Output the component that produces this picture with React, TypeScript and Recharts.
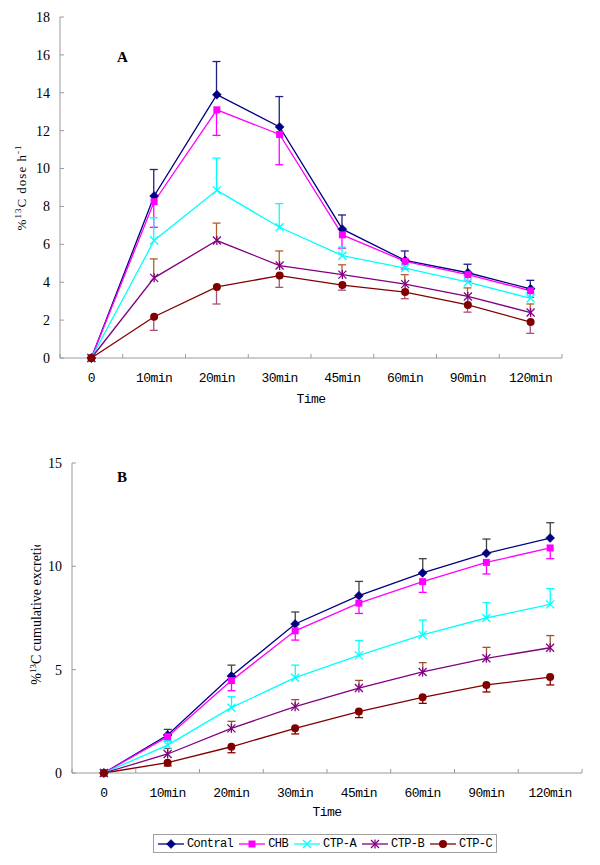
import React from 'react';
import { ComposedChart, Line, Bar, XAxis, YAxis } from 'recharts';

// ---------- data ----------
const timeLabels = ['0', '10min', '20min', '30min', '45min', '60min', '90min', '120min'];
const seriesNames = ['Contral', 'CHB', 'CTP-A', 'CTP-B', 'CTP-C'];
const seriesKeys = ['contral', 'chb', 'ctpA', 'ctpB', 'ctpC'];
const seriesColors = ['#000080', '#FF00FF', '#00FFFF', '#800080', '#800000'];
const seriesMarkers = ['diamond', 'square', 'x', 'star', 'circle'];
const errorDirections = ['up', 'down', 'up', 'up', 'down'];

// Panel A: %13C dose h-1
const contralA = [0, 8.55, 13.9, 12.2, 6.8, 5.15, 4.5, 3.65];
const contralAErr = [0, 1.4, 1.75, 1.6, 0.75, 0.5, 0.45, 0.45];
const chbA = [0, 8.25, 13.1, 11.8, 6.5, 5.1, 4.4, 3.55];
const chbAErr = [0, 1.35, 1.35, 1.6, 0.7, 0.4, 0.35, 0.35];
const ctpA_A = [0, 6.2, 8.85, 6.9, 5.4, 4.75, 4.0, 3.15];
const ctpA_AErr = [0, 1.2, 1.7, 1.25, 0.45, 0.4, 0.35, 0.3];
const ctpB_A = [0, 4.23, 6.2, 4.88, 4.4, 3.9, 3.25, 2.4];
const ctpB_AErr = [0, 1.0, 0.92, 0.77, 0.52, 0.5, 0.45, 0.45];
const ctpC_A = [0, 2.18, 3.75, 4.35, 3.85, 3.48, 2.8, 1.9];
const ctpC_AErr = [0, 0.72, 0.9, 0.62, 0.27, 0.35, 0.38, 0.6];
const yTicksA = [0, 2, 4, 6, 8, 10, 12, 14, 16, 18];

// Panel B: %13C cumulative excretion
const contralB = [0, 1.84, 4.69, 7.21, 8.58, 9.68, 10.63, 11.37];
const contralBErr = [0, 0.27, 0.53, 0.58, 0.69, 0.69, 0.69, 0.74];
const chbB = [0, 1.76, 4.47, 6.88, 8.22, 9.26, 10.19, 10.89];
const chbBErr = [0, 0.2, 0.49, 0.45, 0.5, 0.52, 0.56, 0.52];
const ctpA_B = [0, 1.35, 3.16, 4.61, 5.69, 6.68, 7.5, 8.16];
const ctpA_BErr = [0, 0.22, 0.53, 0.61, 0.72, 0.72, 0.74, 0.76];
const ctpB_B = [0, 0.92, 2.16, 3.21, 4.11, 4.89, 5.55, 6.06];
const ctpB_BErr = [0, 0.27, 0.34, 0.34, 0.37, 0.45, 0.53, 0.59];
const ctpC_B = [0, 0.5, 1.27, 2.16, 2.97, 3.66, 4.26, 4.64];
const ctpC_BErr = [0, 0.16, 0.29, 0.27, 0.29, 0.29, 0.34, 0.38];
const yTicksB = [0, 5, 10, 15];

const errColorsA = ['#1f1f85', '#FF00FF', '#00FFFF', '#b0602c', '#a8507a'];
const errColorsB = ['#404040', '#FF00FF', '#00FFFF', '#a0522d', '#800000'];

function buildRows(values: number[][], errs: number[][]) {
  return timeLabels.map((t, i) => {
    const row: Record<string, any> = { time: t };
    seriesKeys.forEach((k, s) => {
      row[k] = values[s][i];
      row[k + 'Err'] = errs[s][i];
    });
    return row;
  });
}

const rowsA = buildRows(
  [contralA, chbA, ctpA_A, ctpB_A, ctpC_A],
  [contralAErr, chbAErr, ctpA_AErr, ctpB_AErr, ctpC_AErr]
);
const rowsB = buildRows(
  [contralB, chbB, ctpA_B, ctpB_B, ctpC_B],
  [contralBErr, chbBErr, ctpA_BErr, ctpB_BErr, ctpC_BErr]
);

// ---------- styles ----------
const FONT_SERIF = '"Liberation Serif", "Times New Roman", serif';
const FONT_MONO = '"Liberation Mono", "Courier New", monospace';
const AXIS_COLOR = '#9a9a9a';
const X_TICK_MARGIN = 15;
const Y_TICK_MARGIN = 10;

const W = 600;
const H_A = 420;
const H_B = 445;
const marginA = { top: 17, right: 38, bottom: 12, left: 0 };
const marginB = { top: 43, right: 18, bottom: 42, left: 0 };
const yAxisWidthA = 60;
const yAxisWidthB = 72;
const xAxisHeight = 50;
const bandA = (W - marginA.left - marginA.right - yAxisWidthA) / timeLabels.length;
const bandB = (W - marginB.left - marginB.right - yAxisWidthB) / timeLabels.length;

// ---------- markers ----------
function Marker({ kind, cx, cy, color }: { kind: string; cx: number; cy: number; color: string }) {
  switch (kind) {
    case 'diamond':
      return (
        <polygon
          points={`${cx},${cy - 4.5} ${cx + 4.5},${cy} ${cx},${cy + 4.5} ${cx - 4.5},${cy}`}
          fill={color}
          stroke={color}
          strokeWidth={0.5}
        />
      );
    case 'square':
      return <rect x={cx - 3.5} y={cy - 3.5} width={7} height={7} fill={color} />;
    case 'x':
      return (
        <g stroke={color} strokeWidth={1.3}>
          <line x1={cx - 4} y1={cy - 4} x2={cx + 4} y2={cy + 4} />
          <line x1={cx - 4} y1={cy + 4} x2={cx + 4} y2={cy - 4} />
        </g>
      );
    case 'star':
      return (
        <g stroke={color} strokeWidth={1.3}>
          <line x1={cx - 4} y1={cy - 4} x2={cx + 4} y2={cy + 4} />
          <line x1={cx - 4} y1={cy + 4} x2={cx + 4} y2={cy - 4} />
          <line x1={cx} y1={cy - 4.5} x2={cx} y2={cy + 4.5} />
        </g>
      );
    default:
      return <circle cx={cx} cy={cy} r={4} fill={color} />;
  }
}

const makeDot = (kind: string, color: string) => (props: any) => {
  const { cx, cy, index } = props;
  if (cx == null || cy == null || !isFinite(cx) || !isFinite(cy)) return <g key={`e${index}`} />;
  return (
    <g key={`d${index}`}>
      <Marker kind={kind} cx={cx} cy={cy} color={color} />
    </g>
  );
};

// error bar drawn from the range bar that the library scales
const makeErrShape = (dir: string, color: string) => (props: any) => {
  const { x, y, width, height } = props;
  if (x == null || y == null || !isFinite(y) || !height || Math.abs(height) < 0.5) return <g />;
  const cx = x + width / 2;
  const top = Math.min(y, y + height);
  const bot = Math.max(y, y + height);
  const capY = dir === 'up' ? top : bot;
  return (
    <g stroke={color} strokeWidth={1.3}>
      <line x1={cx} x2={cx} y1={top} y2={bot} />
      <line x1={cx - 4} x2={cx + 4} y1={capY} y2={capY} />
    </g>
  );
};

const errKey = (k: string, dir: string) => (d: any) =>
  dir === 'up' ? [d[k], d[k] + d[k + 'Err']] : [d[k] - d[k + 'Err'], d[k]];

// ---------- axis ticks ----------
const makeXTick = (bandW: number) => (props: any) => {
  const { x, y, payload, index } = props;
  const axisY = y - X_TICK_MARGIN;
  const left = x - bandW / 2;
  const right = x + bandW / 2;
  return (
    <g>
      <line x1={left} x2={left} y1={axisY} y2={axisY - 4} stroke={AXIS_COLOR} />
      {index === timeLabels.length - 1 && (
        <line x1={right} x2={right} y1={axisY} y2={axisY - 4} stroke={AXIS_COLOR} />
      )}
      <text
        x={x}
        y={y + 9}
        textAnchor="middle"
        fontFamily={FONT_MONO}
        fontSize={13}
        letterSpacing={-0.6}
        fill="#000"
      >
        {payload.value}
      </text>
    </g>
  );
};

const makeYTick = (fontSize: number) => (props: any) => {
  const { x, y, payload } = props;
  const axisX = x + Y_TICK_MARGIN;
  return (
    <g>
      <line x1={axisX} x2={axisX + 4} y1={y} y2={y} stroke={AXIS_COLOR} />
      <text x={x} y={y} dy="0.35em" textAnchor="end" fontFamily={FONT_SERIF} fontSize={fontSize} fill="#000">
        {payload.value}
      </text>
    </g>
  );
};

const makeTimeLabel = (dy: number) => (props: any) => {
  const vb = props.viewBox || {};
  return (
    <text
      x={vb.x + vb.width / 2}
      y={vb.y + dy}
      textAnchor="middle"
      fontFamily={FONT_MONO}
      fontSize={13}
      letterSpacing={-0.6}
      fill="#000"
    >
      Time
    </text>
  );
};

const YLabelA = (props: any) => {
  const vb = props.viewBox || {};
  const cx = vb.x + 21;
  const cy = vb.y + vb.height / 2;
  return (
    <text
      transform={`rotate(-90, ${cx}, ${cy})`}
      x={cx}
      y={cy + 5}
      textAnchor="middle"
      fontFamily={FONT_SERIF}
      fontSize={13}
      letterSpacing={1}
      fill="#000"
      style={{ whiteSpace: 'pre' }}
    >
      %<tspan dy={-5} fontSize={9}>13</tspan>
      <tspan dy={5}>C dose h</tspan>
      <tspan dy={-5} fontSize={9}>-1</tspan>
    </text>
  );
};

const YLabelB = (props: any) => {
  const vb = props.viewBox || {};
  const cx = vb.x + 36;
  const cy = vb.y + vb.height / 2 - 9;
  const clipTop = vb.y + 82;
  return (
    <g>
      <defs>
        <clipPath id="ylabel-b-clip">
          <rect x={vb.x} y={clipTop} width={vb.width} height={vb.height} />
        </clipPath>
      </defs>
      <g clipPath="url(#ylabel-b-clip)">
        <text
          transform={`rotate(-90, ${cx}, ${cy})`}
          x={cx}
          y={cy + 5}
          textAnchor="middle"
          fontFamily={FONT_SERIF}
          fontSize={14}
          fill="#000"
          style={{ whiteSpace: 'pre' }}
        >
          %<tspan dy={-5} fontSize={9}>13</tspan>
          <tspan dy={5}>C cumulative excretion</tspan>
        </text>
      </g>
    </g>
  );
};

// ---------- chart panel ----------
function Panel(props: {
  rows: any[];
  height: number;
  margin: any;
  yAxisWidth: number;
  bandW: number;
  yDomain: [number, number];
  yTicks: number[];
  errColors: string[];
  yLabel: any;
  timeDy: number;
}) {
  const { rows, height, margin, yAxisWidth, bandW, yDomain, yTicks, errColors, yLabel, timeDy } = props;
  return (
    <ComposedChart width={W} height={height} data={rows} margin={margin} barGap={-2}>
      <XAxis
        dataKey="time"
        type="category"
        interval={0}
        height={xAxisHeight}
        axisLine={{ stroke: AXIS_COLOR }}
        tickLine={false}
        tickSize={0}
        tickMargin={X_TICK_MARGIN}
        tick={makeXTick(bandW)}
        label={{ content: makeTimeLabel(timeDy) }}
      />
      <YAxis
        type="number"
        domain={yDomain}
        ticks={yTicks}
        interval={0}
        width={yAxisWidth}
        axisLine={{ stroke: AXIS_COLOR }}
        tickLine={false}
        tickSize={0}
        tickMargin={Y_TICK_MARGIN}
        tick={makeYTick(14)}
        label={{ content: yLabel }}
      />
      {seriesKeys.map((k, s) => (
        <Bar
          key={`err-${k}`}
          dataKey={errKey(k, errorDirections[s])}
          barSize={2}
          isAnimationActive={false}
          shape={makeErrShape(errorDirections[s], errColors[s])}
        />
      ))}
      {seriesKeys.map((k, s) => (
        <Line
          key={k}
          type="linear"
          dataKey={k}
          name={seriesNames[s]}
          stroke={seriesColors[s]}
          strokeWidth={1.3}
          dot={makeDot(seriesMarkers[s], seriesColors[s])}
          activeDot={false}
          isAnimationActive={false}
        />
      ))}
    </ComposedChart>
  );
}

function LegendBox() {
  return (
    <div
      style={{
        position: 'absolute',
        left: 153,
        top: 834,
        height: 19,
        border: '1px solid #a0a0a0',
        background: '#fff',
        display: 'flex',
        alignItems: 'center',
        padding: '0 4px',
        gap: 6,
        boxSizing: 'border-box',
      }}
    >
      {seriesNames.map((n, s) => (
        <div key={n} style={{ display: 'flex', alignItems: 'center', gap: 3 }}>
          <svg width={26} height={12}>
            <line x1={0} x2={26} y1={6} y2={6} stroke={seriesColors[s]} strokeWidth={1.3} />
            <Marker kind={seriesMarkers[s]} cx={13} cy={6} color={seriesColors[s]} />
          </svg>
          <span
            style={{
              fontFamily: FONT_MONO,
              fontSize: 12,
              letterSpacing: -0.6,
              color: '#000',
              lineHeight: '12px',
              whiteSpace: 'nowrap',
            }}
          >
            {n}
          </span>
        </div>
      ))}
    </div>
  );
}

export default function App() {
  return (
    <div style={{ position: 'absolute', left: 0, top: 0, width: W, height: 865, background: '#fff', overflow: 'hidden' }}>
      <div style={{ position: 'absolute', left: 0, top: 0 }}>
        <Panel
          rows={rowsA}
          height={H_A}
          margin={marginA}
          yAxisWidth={yAxisWidthA}
          bandW={bandA}
          yDomain={[0, 18]}
          yTicks={yTicksA}
          errColors={errColorsA}
          yLabel={YLabelA}
          timeDy={45}
        />
      </div>
      <div style={{ position: 'absolute', left: 0, top: H_A }}>
        <Panel
          rows={rowsB}
          height={H_B}
          margin={marginB}
          yAxisWidth={yAxisWidthB}
          bandW={bandB}
          yDomain={[0, 15]}
          yTicks={yTicksB}
          errColors={errColorsB}
          yLabel={YLabelB}
          timeDy={43}
        />
      </div>
      <div
        style={{
          position: 'absolute',
          left: 117,
          top: 50,
          fontFamily: FONT_SERIF,
          fontWeight: 'bold',
          fontSize: 15,
          lineHeight: '15px',
        }}
      >
        A
      </div>
      <div
        style={{
          position: 'absolute',
          left: 117,
          top: 470,
          fontFamily: FONT_SERIF,
          fontWeight: 'bold',
          fontSize: 15,
          lineHeight: '15px',
        }}
      >
        B
      </div>
      <LegendBox />
    </div>
  );
}
